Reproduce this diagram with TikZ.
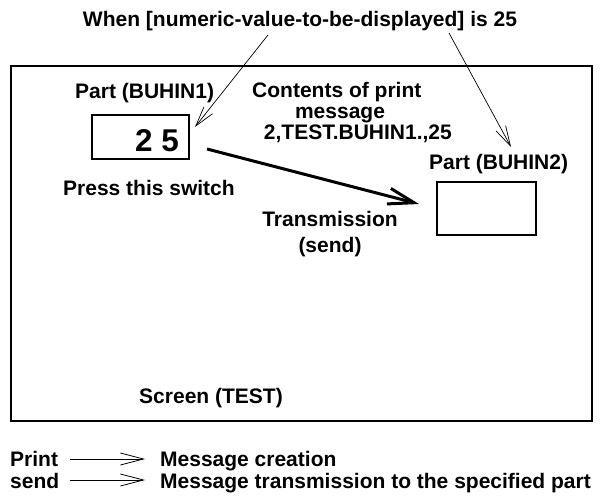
\documentclass[tikz,border=0pt]{standalone}
\usepackage{fontspec}
\setmainfont{Liberation Sans}
\usetikzlibrary{arrows.meta}
\begin{document}
\begin{tikzpicture}[x=1pt,y=-1pt,
  lbl/.style={font=\fontsize{21}{24}\selectfont\bfseries, inner sep=0pt},
  digits/.style={font=\fontsize{31.5}{34}\selectfont\bfseries, inner sep=0pt},
  frame/.style={draw, line width=1.8pt},
  partbox/.style={draw, line width=1.2pt},
  thinarrow/.style={line width=0.7pt, -{Straight Barb[length=20pt,width=11pt]}},
  bigarrow/.style={line width=3pt, -{Straight Barb[length=26pt,width=16pt]}},
  legarrow/.style={line width=0.8pt, -{Straight Barb[length=23pt,width=12pt]}}]
\useasboundingbox (0,0) rectangle (600,500);

% screen frame
\draw[frame] (11,66) rectangle (592,421);
\node[lbl, anchor=base] (screen) at (211,403) {Screen (TEST)};

% title
\node[lbl, anchor=base] (title) at (300,27) {When [numeric-value-to-be-displayed] is 25};

% part 1
\node[lbl, anchor=base west] (p1lbl) at (75,99) {Part (BUHIN1)};
\node[partbox, minimum width=97pt, minimum height=44pt, inner sep=0pt] (b1) at (140.5,137) {};
\node[digits, anchor=base east] (val) at (179,152) {2 5};
\node[lbl, anchor=base west] (press) at (63,196) {Press this switch};

% print message contents
\node[lbl, anchor=base west] (c1) at (252,98) {Contents of print};
\node[lbl, anchor=base] (c2) at (340,119) {message};
\node[lbl, anchor=base east] (c3) at (452,140) {2,TEST.BUHIN1.,25};

% part 2
\node[lbl, anchor=base west] (p2lbl) at (429,170) {Part (BUHIN2)};
\node[partbox, minimum width=99pt, minimum height=53pt, inner sep=0pt] (b2) at (486.5,208.5) {};

% transmission
\node[lbl, anchor=base] (tr1) at (330,226) {Transmission};
\node[lbl, anchor=base] (tr2) at (330,252) {(send)};

% arrows
\coordinate (t1) at (268,35);
\coordinate (h1) at (195,127);
\coordinate (t2) at (449,33);
\coordinate (h2) at (511,147);
\coordinate (s0) at (207,149);
\coordinate (s1) at (419,204);
\draw[thinarrow] (t1) -- (h1);
\draw[thinarrow] (t2) -- (h2);
\draw[bigarrow] (s0) -- (s1);

% legend
\node[lbl, anchor=base west] (print) at (10,466) {Print};
\node[lbl, anchor=base west] (send) at (10,488) {send};
\node[lbl, anchor=base west] (mc) at (160,466) {Message creation};
\node[lbl, anchor=base west] (mt) at (160,488) {Message transmission to the specified part};
\coordinate (la0) at (70,459);
\coordinate (la1) at (145,459);
\coordinate (lb0) at (70,480);
\coordinate (lb1) at (145,480);
\draw[legarrow] (la0) -- (la1);
\draw[legarrow] (lb0) -- (lb1);
\end{tikzpicture}
\end{document}
